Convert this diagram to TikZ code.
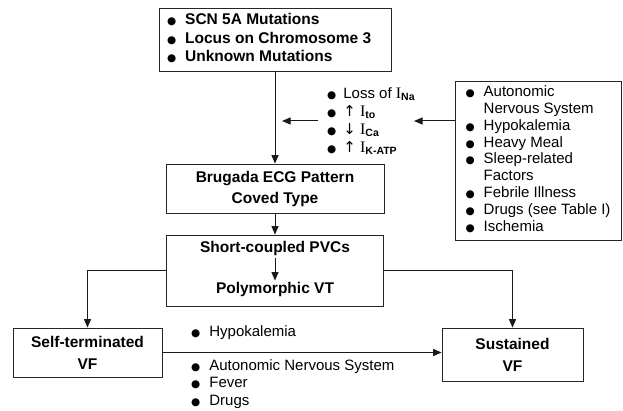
\documentclass[tikz,border=0pt]{standalone}
\usepackage{fontspec}
\setmainfont{Liberation Sans}
\newfontfamily\dejavu{DejaVu Sans}
\newfontfamily\serifI{Liberation Serif}
\usetikzlibrary{arrows.meta}
\newcommand{\bl}{{\dejavu\fontsize{10.5}{10}\selectfont ●}}
\newcommand{\Icur}[1]{{\serifI\fontsize{16}{16}\selectfont I}\textsubscript{\bfseries #1}}
\newcommand{\arU}{{\dejavu ↑}}
\newcommand{\arD}{{\dejavu ↓}}
\tikzset{
  box/.style={draw=black!85, line width=0.8pt, rectangle, inner sep=0pt},
  arr/.style={draw=black!90, line width=1pt, -{Triangle[length=8.5pt,width=7pt]}},
  btxt/.style={font=\bfseries\fontsize{15.5}{21}\selectfont, align=center, inner sep=0pt},
  ltxt/.style={font=\fontsize{15}{17.5}\selectfont, inner sep=0pt}
}
\begin{document}
\begin{tikzpicture}[x=1pt,y=-1pt]
\useasboundingbox (0,0) rectangle (623,411);
% top box
\node[box, minimum width=232pt, minimum height=63pt, font=\bfseries\fontsize{15.5}{18.5}\selectfont] (top) at (275,39.5)
  {\makebox[216pt][l]{\begin{tabular}{@{}l@{\hspace{9pt}}l@{}}
   \bl & SCN 5A Mutations\\
   \bl & Locus on Chromosome 3\\
   \bl & Unknown Mutations
   \end{tabular}}};
% Brugada
\node[box, btxt, minimum width=218pt, minimum height=49pt] (brug) at (275,188.5)
  {Brugada ECG Pattern\\Coved Type};
% PVC box
\node[box, minimum width=217pt, minimum height=71pt] (pvc) at (275,270.5) {};
\node[btxt] (scp) at (275,248) {Short-coupled PVCs};
\node[btxt] (pmvt) at (275,289) {Polymorphic VT};
% self-terminated
\node[box, btxt, minimum width=149pt, minimum height=49pt, font=\bfseries\fontsize{15.5}{22}\selectfont] (self) at (87.5,352.5)
  {Self-terminated\\VF};
% sustained
\node[box, btxt, minimum width=141pt, minimum height=53pt, font=\bfseries\fontsize{15.5}{22}\selectfont] (sust) at (512.5,354.5)
  {Sustained\\VF};
% right box
\node[box, minimum width=166pt, minimum height=159pt, font=\fontsize{15}{16.8}\selectfont] (rb) at (538,160.5)
  {\begin{tabular}{@{}l@{\hspace{9pt}}l@{}}
   \bl & Autonomic\\
       & Nervous System\\
   \bl & Hypokalemia\\
   \bl & Heavy Meal\\
   \bl & Sleep-related\\
       & Factors\\
   \bl & Febrile Illness\\
   \bl & Drugs (see Table I)\\
   \bl & Ischemia
   \end{tabular}};
% middle list
\node[ltxt, anchor=west, font=\fontsize{15}{18}\selectfont] (mid) at (327,122)
  {\begin{tabular}{@{}l@{\hspace{7pt}}l@{}}
   \bl & Loss of \Icur{Na}\\
   \bl & \arU\ \Icur{to}\\
   \bl & \arD\ \Icur{Ca}\\
   \bl & \arU\ \Icur{K-ATP}
   \end{tabular}};
% bottom lists
\node[ltxt, anchor=west] (hk) at (191,333)
  {\begin{tabular}{@{}l@{\hspace{9pt}}l@{}}\bl & Hypokalemia\end{tabular}};
\node[ltxt, anchor=north west] (bl) at (191,358)
  {\begin{tabular}{@{}l@{\hspace{9pt}}l@{}}
   \bl & Autonomic Nervous System\\
   \bl & Fever\\
   \bl & Drugs
   \end{tabular}};
% coordinates
\coordinate (lt) at (282,121);
\coordinate (ls) at (318,121);
\coordinate (rt) at (414,121);
% connectors
\draw[arr] (top.south) -- (brug.north);
\draw[arr] (brug.south) -- (pvc.north);
\draw[arr, shorten <=3pt, shorten >=1pt] (scp.south) -- (pmvt.north);
\draw[arr] (pvc.west) -| (self.north);
\draw[arr] (pvc.east) -| (sust.north);
\draw[arr] (self.east) -- (self.east -| sust.west);
\draw[arr] (ls) -- (lt);
\draw[arr] (rb.west |- rt) -- (rt);
\end{tikzpicture}
\end{document}
